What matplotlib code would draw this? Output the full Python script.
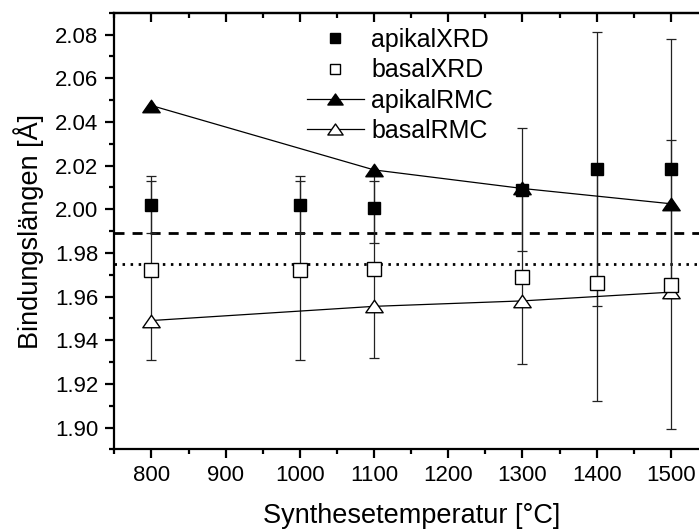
import matplotlib
matplotlib.use("Agg")
import matplotlib.pyplot as plt
from matplotlib.path import Path
from matplotlib.ticker import MultipleLocator, FormatStrFormatter

plt.rcParams['font.family'] = ['Liberation Sans', 'DejaVu Sans']

# Synthesis temperatures (°C)
temp_xrd = [800, 1000, 1100, 1300, 1400, 1500]
temp_rmc = [800, 1100, 1300, 1500]

# Bond lengths (Å) from XRD with uncertainties
apikal_xrd = [2.002, 2.002, 2.0005, 2.009, 2.0185, 2.0185]
apikal_xrd_err = [0.013, 0.013, 0.016, 0.028, 0.0627, 0.0593]
basal_xrd = [1.972, 1.972, 1.9725, 1.969, 1.966, 1.9655]
basal_xrd_err = [0.041, 0.041, 0.0405, 0.040, 0.054, 0.066]

# Bond lengths (Å) from RMC
apikal_rmc = [2.0475, 2.018, 2.0095, 2.0025]
basal_rmc = [1.949, 1.9555, 1.958, 1.962]

# Reference bond lengths
ref_apikal = 1.989
ref_basal = 1.975

xticks = [800, 900, 1000, 1100, 1200, 1300, 1400, 1500]

# Triangle wider than tall
tri = Path([(0, 0.72), (-1, -0.72), (1, -0.72), (0, 0.72)],
           [Path.MOVETO, Path.LINETO, Path.LINETO, Path.CLOSEPOLY])

fig = plt.figure(figsize=(6.99, 5.31), dpi=100)
ax = fig.add_axes([0.1635, 0.1538, 1.0129 - 0.1635, 0.976 - 0.1538])

ax.axhline(ref_apikal, color='black', lw=2.0, ls=(0, (3.6, 2.9)), zorder=1)
ax.axhline(ref_basal, color='black', lw=2.0, ls=(0, (0.9, 2.0)), zorder=1)

eb_kw = dict(fmt='none', ecolor='#222222', elinewidth=0.9, capsize=3.8,
             capthick=0.9, zorder=2)
ax.errorbar(temp_xrd, basal_xrd, yerr=basal_xrd_err, **eb_kw)
ax.errorbar(temp_xrd, apikal_xrd, yerr=apikal_xrd_err, **eb_kw)

ax.plot(temp_rmc, apikal_rmc, color='black', lw=0.9, marker=tri,
        markersize=12.5, mfc='black', mec='black', mew=1.0, zorder=4)
ax.plot(temp_rmc, basal_rmc, color='black', lw=0.9, marker=tri,
        markersize=12.5, mfc='white', mec='black', mew=1.0, zorder=4)
ax.plot(temp_xrd, basal_xrd, ls='none', marker='s', markersize=10.5,
        mfc='white', mec='black', mew=1.0, zorder=5)
ax.plot(temp_xrd, apikal_xrd, ls='none', marker='s', markersize=9,
        mfc='black', mec='black', mew=1.0, zorder=5)

# Legend entries
h1, = ax.plot([], [], ls='none', marker='s', markersize=7.5, mfc='black', mec='black')
h2, = ax.plot([], [], ls='none', marker='s', markersize=7.5, mfc='white', mec='black', mew=1.0)
h3, = ax.plot([], [], color='black', lw=0.9, marker=tri, markersize=11, mfc='black', mec='black')
h4, = ax.plot([], [], color='black', lw=0.9, marker=tri, markersize=11, mfc='white', mec='black')
ax.legend([h1, h2, h3, h4], ['apikalXRD', 'basalXRD', 'apikalRMC', 'basalRMC'],
          loc='upper left', bbox_to_anchor=(0.298, 1.0), frameon=False,
          fontsize=18, handlelength=2.3, handletextpad=0.28,
          labelspacing=0.25, borderaxespad=0.42, borderpad=0.2)

ax.set_xlim(750, 1550)
ax.set_ylim(1.89, 2.09)
ax.set_xticks(xticks)
ax.xaxis.set_minor_locator(MultipleLocator(50))
ax.yaxis.set_major_locator(MultipleLocator(0.02))
ax.yaxis.set_minor_locator(MultipleLocator(0.01))
ax.yaxis.set_major_formatter(FormatStrFormatter('%.2f'))

for s in ax.spines.values():
    s.set_linewidth(1.6)

ax.tick_params(axis='both', which='major', direction='out', length=6.5,
               width=1.6, labelsize=16, pad=5)
ax.tick_params(axis='both', which='minor', direction='out', length=3.5, width=1.6)

# Inward ticks on the top and right edges
top = ax.secondary_xaxis('top')
top.set_xticks(xticks)
top.xaxis.set_minor_locator(MultipleLocator(50))
top.tick_params(which='major', direction='in', length=6.5, width=1.6, labeltop=False)
top.tick_params(which='minor', direction='in', length=3.5, width=1.6)
top.spines['top'].set_linewidth(1.6)
right = ax.secondary_yaxis('right')
right.yaxis.set_major_locator(MultipleLocator(0.02))
right.yaxis.set_minor_locator(MultipleLocator(0.01))
right.tick_params(which='major', direction='in', length=6.5, width=1.6, labelright=False)
right.tick_params(which='minor', direction='in', length=3.5, width=1.6)

ax.set_xlabel('Synthesetemperatur [°C]', fontsize=19.5, labelpad=12)
ax.set_ylabel('Bindungslängen [Å]', fontsize=19.5, labelpad=8)

fig.savefig('out.png', dpi=100)
